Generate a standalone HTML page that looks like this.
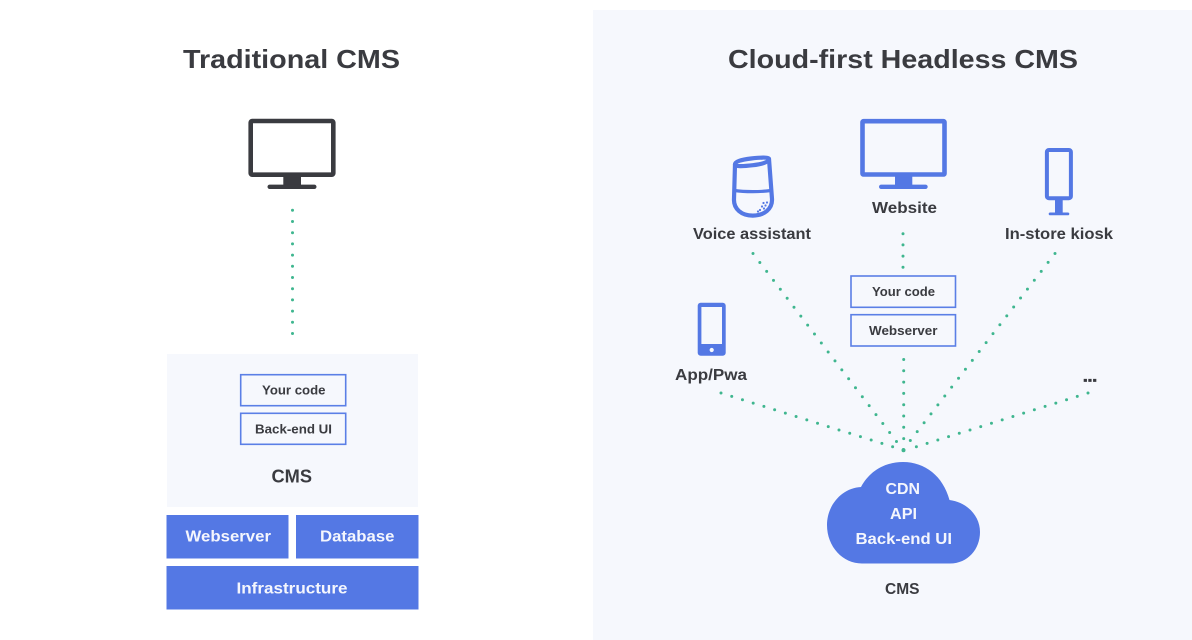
<!DOCTYPE html>
<html>
<head>
<meta charset="utf-8">
<style>
html,body{margin:0;padding:0;background:#fff}
svg{display:block}
text{font-family:"Liberation Sans",sans-serif;font-weight:bold;fill:#3a3b40;text-anchor:start}
.w{fill:#f4f6fd}
.d{fill:none;stroke:#3fb68f;stroke-width:3;stroke-linecap:round}
</style>
</head>
<body>
<svg width="1192" height="640" viewBox="0 0 1192 640" xmlns="http://www.w3.org/2000/svg">
<rect width="1192" height="640" fill="#fff"/>
<rect x="593" y="10" width="599" height="630" fill="#f6f8fd"/>
<rect x="167" y="354" width="251" height="153" fill="#f6f8fd"/>

<text x="183" y="68" font-size="26" textLength="217" lengthAdjust="spacingAndGlyphs">Traditional CMS</text>
<text x="728" y="68" font-size="26" textLength="350" lengthAdjust="spacingAndGlyphs">Cloud-first Headless CMS</text>

<!-- dark monitor -->
<rect x="250.7" y="121" width="82.6" height="53.7" rx="1.5" fill="#fff" stroke="#3a3b40" stroke-width="4.6"/>
<rect x="283.3" y="176" width="17.7" height="10" fill="#3a3b40"/>
<rect x="267.5" y="184.6" width="49" height="4.4" rx="2.2" fill="#3a3b40"/>

<!-- left connector -->
<path class="d" stroke-dasharray="0 11.2" d="M292.5 210.3V334"/>

<!-- left stack -->
<rect x="240.7" y="374.7" width="105" height="31" fill="#f6f8fd" stroke="#5b7fe6" stroke-width="1.6"/>
<rect x="240.7" y="413.3" width="105" height="31" fill="#f6f8fd" stroke="#5b7fe6" stroke-width="1.6"/>
<text x="262" y="394.5" font-size="13" textLength="63.5" lengthAdjust="spacingAndGlyphs">Your code</text>
<text x="255" y="433.3" font-size="13" textLength="77" lengthAdjust="spacingAndGlyphs">Back-end UI</text>
<text x="271.5" y="482.5" font-size="18" textLength="40.5" lengthAdjust="spacingAndGlyphs">CMS</text>
<rect x="166.5" y="515" width="122" height="43.5" fill="#5478e4"/>
<rect x="296" y="515" width="122.500" height="43.500" fill="#5478e4"/>
<rect x="166.5" y="566" width="252" height="43.500" fill="#5478e4"/>
<text class="w" x="185.500" y="541.500" font-size="15.500" textLength="85.500" lengthAdjust="spacingAndGlyphs">Webserver</text>
<text class="w" x="320" y="541.500" font-size="15.500" textLength="74.500" lengthAdjust="spacingAndGlyphs">Database</text>
<text class="w" x="236.500" y="593.500" font-size="15.500" textLength="111" lengthAdjust="spacingAndGlyphs">Infrastructure</text>

<!-- blue monitor -->
<rect x="862.500" y="121.200" width="82" height="53.300" rx="1" fill="#f6f8fd" stroke="#5478e4" stroke-width="4.600"/>
<rect x="895" y="176" width="17.300" height="10" fill="#5478e4"/>
<rect x="879" y="184.600" width="48.700" height="4.400" rx="2.200" fill="#5478e4"/>
<text x="872" y="213" font-size="15.500" textLength="65" lengthAdjust="spacingAndGlyphs">Website</text>

<!-- voice assistant -->
<g fill="none" stroke="#5478e4" stroke-width="4.200" stroke-linecap="round" stroke-linejoin="round">
<path d="M735 164.500C735 161.500 741 159.700 751 158.500C761 157.300 769 157 769 159C769 162 763 164 753 165.200C743 166.400 735 166.700 735 164.500Z"/>
<path d="M735 164.500L734 199C733.500 209 741.500 215.600 752.800 215.600C764 215.600 772.500 209 772 199L769 159"/>
<path d="M734.500 190.500C745 192 760 192 771 190.500" stroke-width="3.200"/>
</g>
<g fill="#5478e4">
<circle cx="767" cy="202.500" r="1.100"/><circle cx="763.500" cy="203" r="1.100"/><circle cx="765.500" cy="205.500" r="1.100"/>
<circle cx="762" cy="206.500" r="1.100"/><circle cx="764" cy="208.500" r="1.100"/><circle cx="760" cy="210" r="1.100"/><circle cx="758" cy="211.500" r="1.100"/>
</g>
<text x="693" y="239" font-size="15.500" textLength="118" lengthAdjust="spacingAndGlyphs">Voice assistant</text>

<!-- kiosk -->
<rect x="1046.900" y="150" width="24" height="48.200" rx="2" fill="#f6f8fd" stroke="#5478e4" stroke-width="4"/>
<rect x="1055" y="199" width="7.700" height="14.500" fill="#5478e4"/>
<rect x="1048.700" y="212.500" width="20.600" height="2.800" rx="1.400" fill="#5478e4"/>
<text x="1005" y="239" font-size="15.500" textLength="108" lengthAdjust="spacingAndGlyphs">In-store kiosk</text>

<!-- phone -->
<rect x="697.700" y="302.700" width="28" height="53" rx="3" fill="#5478e4"/>
<rect x="701.400" y="307" width="20.600" height="37" fill="#f6f8fd"/>
<circle cx="711.700" cy="350" r="2.100" fill="#f6f8fd"/>
<text x="675" y="380" font-size="15.500" textLength="72" lengthAdjust="spacingAndGlyphs">App/Pwa</text>

<text x="1083" y="381.500" font-size="15" textLength="14" lengthAdjust="spacingAndGlyphs" stroke="#3a3b40" stroke-width="0.800">...</text>

<!-- right boxes -->
<rect x="851" y="276" width="104.500" height="31.300" fill="#f6f8fd" stroke="#5b7fe6" stroke-width="1.600"/>
<rect x="851" y="314.700" width="104.500" height="31.300" fill="#f6f8fd" stroke="#5b7fe6" stroke-width="1.600"/>
<text x="872" y="296" font-size="13" textLength="63" lengthAdjust="spacingAndGlyphs">Your code</text>
<text x="869" y="334.800" font-size="13" textLength="68.500" lengthAdjust="spacingAndGlyphs">Webserver</text>

<!-- connectors -->
<path class="d" stroke-dasharray="0 11.200" d="M903 233.700V268"/>
<path class="d" stroke-dasharray="0 11.300" d="M903.700 359.500V451"/>
<path class="d" stroke-dasharray="0 11.260" d="M753 253.500L903 450"/>
<path class="d" stroke-dasharray="0 11.260" d="M1055 253.500L903 450"/>
<path class="d" stroke-dasharray="0 11.240" d="M721 393L903 450"/>
<path class="d" stroke-dasharray="0 11.240" d="M1088 393L906 450"/>
<circle cx="903.500" cy="450.300" r="2" fill="#3fb68f"/>

<!-- cloud -->
<path d="M862 563.500H950C968 563.500 980 549 980 532C980 515 966 502 949.500 500C943 476 925 462 903 462C884 462 869 472 861 487C842 488 827 505 827 525C827 547 843 563.500 862 563.500Z" fill="#5478e4"/>
<text class="w" x="885.500" y="494" font-size="15.500" textLength="34.500" lengthAdjust="spacingAndGlyphs">CDN</text>
<text class="w" x="890" y="519" font-size="15.500" textLength="27" lengthAdjust="spacingAndGlyphs">API</text>
<text class="w" x="855.500" y="544" font-size="15.500" textLength="96.500" lengthAdjust="spacingAndGlyphs">Back-end UI</text>
<text x="885" y="594" font-size="15.500" textLength="34.500" lengthAdjust="spacingAndGlyphs">CMS</text>
</svg>
</body>
</html>
